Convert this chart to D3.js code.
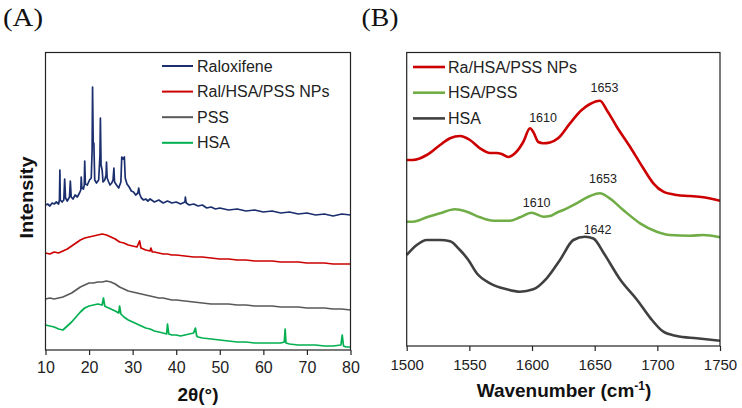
<!DOCTYPE html>
<html>
<head>
<meta charset="utf-8">
<script src="https://cdn.jsdelivr.net/npm/d3@7"></script>
<style>
  body { margin: 0; background: #fff; }
  svg { display: block; font-family: Arial, "Liberation Sans", sans-serif; }
</style>
</head>
<body>
<svg id="viz" width="742" height="408"></svg>
<script>
// ---- Panel A: XRD, [2θ, intensity] (arb. units) ----
const raloxifene = [
  [10,145],[10.5,146],[11,144],[11.5,147],[12,146],[12.5,148],[13,146],[13.2,150],[13.3,180],[13.4,150],
  [13.8,148],[14.2,150],[14.4,171],[14.6,152],[15,149],[15.5,153],[15.7,169],[15.9,153],[16.3,151],[16.8,155],
  [17.3,153],[17.8,157],[18.1,160],[18.2,173],[18.35,162],[18.7,161],[18.9,165],[19.0,189],[19.15,166],[19.6,165],
  [20.1,170],[20.5,172],[20.7,200],[20.8,263],[20.95,207],[21.1,207],[21.3,170],[21.7,167],[22.2,170],[22.5,195],
  [22.6,232],[22.75,185],[23,180],[23.2,168],[23.6,170],[23.9,175],[24.0,188],[24.15,172],[24.5,168],[24.8,165],
  [25.2,167],[25.5,170],[25.7,182],[25.85,168],[26.3,165],[26.8,162],[27.3,168],[27.5,193],[27.8,191],[28.1,193],
  [28.3,172],[28.7,166],[29.2,163],[29.7,159],[30.2,158],[30.7,155],[31.2,157],[31.4,162],[31.6,156],[32,152],
  [32.5,150],[33,151],[33.5,149],[34,151],[35,148],[36,150],[37,147],[38,149],[39,147],[40,148],
  [41,146],[42,148],[42.1,153],[42.3,147],[43,145],[44,146],[45,144],[46,145],[47,142],[48,143],
  [49,141],[50,142],[52,140],[54,141],[56,139],[58,140],[60,138],[62,139],[64,137],[66,138],
  [68,136],[70,137],[72,135],[74,136],[76,134],[78,136],[80,135]
];
const ralHsaPss = [
  [10,97],[11,96],[12,98],[13,97],[14,99],[15,101],[16,104],[17,107],[18,110],[19,112],
  [20,113],[21,114],[22,115],[23,116],[24,115],[25,113],[26,111],[27,108],[28,107],[29,105],
  [30,104],[31,103],[31.6,109],[31.9,102],[33,100],[34,99],[34.2,102],[34.5,98],[35,98],[36,97],
  [37,96],[38,96],[39,95],[40,95],[42,94],[44,93],[46,93],[48,92],[50,91],[52,91],
  [54,90],[56,90],[58,89],[60,89],[62,89],[64,88],[66,88],[68,88],[70,87],[72,87],
  [74,87],[76,86],[78,86],[80,86]
];
const pss = [
  [10,51],[11,52],[12,51],[13,52],[14,53],[15,55],[16,57],[17,60],[18,63],[19,65],
  [20,67],[21,67],[22,68],[23,68],[24,69],[25,68],[26,66],[27,63],[28,61],[29,59],
  [30,58],[31,57],[32,56],[33,55],[34,54],[35,53],[36,52],[37,52],[38,51],[39,50],
  [40,50],[42,49],[44,48],[46,47],[48,46],[50,46],[52,46],[54,45],[56,45],[58,44],
  [60,44],[62,44],[64,43],[66,43],[68,43],[70,42],[72,42],[74,42],[76,41],[78,41],[80,40]
];
const hsa = [
  [10,25],[11,24],[12,23],[13,21],[14,20],[15,24],[16,28],[17,33],[18,38],[19,42],
  [20,44],[21,45],[22,46],[23,45],[23.3,52],[23.6,44],[24,43],[25,41],[26,39],[26.8,37],
  [27,44],[27.3,36],[28,33],[29,30],[30,28],[31,26],[32,24],[33,22],[34,21],[35,19],
  [36,18],[37,17],[37.8,16],[38.0,26],[38.3,16],[39,15],[40,15],[41,14],[42,15],[43,16],
  [44,17],[44.4,22],[44.7,14],[45,13],[46,12],[48,11],[50,10],[52,9],[54,8],[56,8],
  [58,7],[60,7],[62,7],[64,7],[64.8,8],[65.0,21],[65.2,7],[66,6],[68,5],[70,5],
  [72,5],[74,4],[76,4],[77.8,5],[78.1,15],[78.4,4],[79,3],[80,3]
];
const xrdNames = ['Raloxifene', 'Ral/HSA/PSS NPs', 'PSS', 'HSA'];
const xrdTicks = [10, 20, 30, 40, 50, 60, 70, 80];

// ---- Panel B: FTIR, [wavenumber, intensity] ----
const ftirRa = [
  [1500,186],[1505,186],[1516,191],[1526.6,201],[1534.6,207.7],[1542.5,210],[1550.5,206],[1558.5,197.7],
  [1566.5,193],[1571.8,193],[1575.8,192],[1581,189],[1586.4,192.7],[1593,204],[1598.4,217.7],[1601,214],
  [1605,204],[1609,202.7],[1614.3,203.5],[1621,208],[1630.3,222.7],[1639.6,236],[1646.3,242],[1654.2,245.3],
  [1659.6,236],[1667.6,219.3],[1678.2,199.3],[1688.8,177.7],[1696.8,162.7],[1704.8,154.3],[1715.4,151],
  [1726,150],[1736.7,148.7],[1750,145.3]
];
const ftirHsaPss = [
  [1500,124.3],[1505,124.3],[1516,128.7],[1526.6,132.7],[1538.5,136.7],[1547.8,134.3],[1558.5,128.7],
  [1569.1,125.3],[1582.4,125.3],[1590.4,128.7],[1599.7,133.3],[1609,129.3],[1614.3,130],[1619.7,133.3],
  [1625,136],[1635.6,142.7],[1646.3,150],[1654.2,152.7],[1660.9,148.7],[1672.8,136],[1686.2,122.7],
  [1699.5,114.3],[1710.1,111],[1726,110.3],[1736.7,111],[1750,108.7]
];
const ftirHsa = [
  [1500,91],[1508,101],[1516,106],[1526.6,106],[1534.6,104.7],[1542.5,96],[1549.2,86],[1555.9,72.7],
  [1566.5,62.7],[1579.8,56.7],[1590.4,54.3],[1601,56.7],[1611.7,67.7],[1622.3,86],[1633,106],
  [1642.3,109.3],[1649,107.5],[1657.3,92.7],[1670.6,66],[1683.9,46],[1694.6,27.7],[1704.8,14.3],
  [1715.4,10],[1731.4,7.7],[1750,5.3]
];
const ftirNames = ['Ra/HSA/PSS NPs', 'HSA/PSS', 'HSA'];
const ftirTicks = [1500, 1550, 1600, 1650, 1700, 1750];
// peak labels: [text, wavenumber, intensity]
const ftirPeakLabels = [
  ['1653', 1657.8, 254], ['1610', 1608.8, 224],
  ['1653', 1656.6, 163], ['1610', 1603.7, 139],
  ['1642', 1652.3, 112]
];

(() => {
  const svg = d3.select('#viz');

  const xrdColors = ['#1b2f6e', '#cc0000', '#595959', '#00b050'];
  const ftirColors = ['#cc0000', '#70ad47', '#404040'];

  // ---------- Panel A ----------
  const A = { left: 45.5, right: 350.5, top: 52.5, bottom: 350 };
  const xA = d3.scaleLinear().domain([10, 80]).range([A.left, A.right]);
  const yA = d3.scaleLinear().domain([0, A.bottom - A.top]).range([A.bottom, A.top]);
  const lineA = d3.line().x((d) => xA(d[0])).y((d) => yA(d[1]));

  const gA = svg.append('g');
  [raloxifene, ralHsaPss, pss, hsa].forEach((s, i) => {
    gA.append('path')
      .attr('d', lineA(s))
      .attr('fill', 'none')
      .attr('stroke', xrdColors[i])
      .attr('stroke-width', 1.7)
      .attr('stroke-linejoin', 'round');
  });

  gA.append('rect')
    .attr('x', A.left).attr('y', A.top)
    .attr('width', A.right - A.left).attr('height', A.bottom - A.top)
    .attr('fill', 'none').attr('stroke', '#222').attr('stroke-width', 1.2);

  const axA = gA.append('g')
    .attr('transform', `translate(0,${A.bottom})`)
    .call(d3.axisBottom(xA).tickValues(xrdTicks).tickSize(5).tickSizeOuter(0).tickPadding(7));
  axA.select('.domain').remove();
  axA.selectAll('line').attr('stroke', '#222').attr('stroke-width', 1.2);
  axA.selectAll('text').attr('font-size', 16).attr('fill', '#222').attr('font-family', 'Arial, "Liberation Sans", sans-serif');

  // legend A
  xrdNames.forEach((name, i) => {
    const y = 66 + i * 25.6;
    gA.append('line').attr('x1', 162).attr('x2', 193).attr('y1', y).attr('y2', y)
      .attr('stroke', xrdColors[i]).attr('stroke-width', 2);
    gA.append('text').attr('x', 197).attr('y', y + 5.5)
      .attr('font-size', 16).attr('fill', '#222').text(name);
  });

  gA.append('text').attr('x', 198).attr('y', 401)
    .attr('text-anchor', 'middle').attr('font-size', 19).attr('font-weight', 'bold')
    .attr('fill', '#111').text('2θ(°)');

  gA.append('text')
    .attr('transform', 'translate(32.5,197.5) rotate(-90)')
    .attr('text-anchor', 'middle').attr('font-size', 18).attr('font-weight', 'bold')
    .attr('textLength', 82).attr('lengthAdjust', 'spacingAndGlyphs')
    .attr('fill', '#111').text('Intensity');

  gA.append('text').attr('x', 3).attr('y', 26)
    .attr('font-family', '"Liberation Serif", "Times New Roman", serif')
    .attr('font-size', 25).attr('textLength', 40).attr('lengthAdjust', 'spacingAndGlyphs')
    .attr('fill', '#111').text('(A)');

  // ---------- Panel B ----------
  const B = { left: 406.7, right: 720, top: 52.5, bottom: 346 };
  const xB = d3.scaleLinear().domain([1500, 1750]).range([B.left, B.right]);
  const yB = d3.scaleLinear().domain([0, B.bottom - B.top]).range([B.bottom, B.top]);
  const lineB = d3.line().curve(d3.curveMonotoneX).x((d) => xB(d[0])).y((d) => yB(d[1]));

  const gB = svg.append('g');
  [ftirRa, ftirHsaPss, ftirHsa].forEach((s, i) => {
    gB.append('path')
      .attr('d', lineB(s))
      .attr('fill', 'none')
      .attr('stroke', ftirColors[i])
      .attr('stroke-width', 2.6)
      .attr('stroke-linejoin', 'round');
  });

  gB.append('rect')
    .attr('x', B.left).attr('y', B.top)
    .attr('width', B.right - B.left).attr('height', B.bottom - B.top)
    .attr('fill', 'none').attr('stroke', '#222').attr('stroke-width', 1.2);

  const axB = gB.append('g')
    .attr('transform', `translate(0,${B.bottom})`)
    .call(d3.axisBottom(xB).tickValues(ftirTicks).tickFormat(d3.format('d'))
      .tickSize(5).tickSizeOuter(0).tickPadding(8));
  axB.select('.domain').remove();
  axB.selectAll('line').attr('stroke', '#222').attr('stroke-width', 1.2);
  axB.selectAll('text').attr('font-size', 15).attr('fill', '#222').attr('font-family', 'Arial, "Liberation Sans", sans-serif');

  ftirPeakLabels.forEach(([t, wn, v]) => {
    gB.append('text').attr('x', xB(wn)).attr('y', yB(v))
      .attr('text-anchor', 'middle').attr('font-size', 12.5).attr('fill', '#222').text(t);
  });

  // legend B
  ftirNames.forEach((name, i) => {
    const y = 67 + i * 25.7;
    gB.append('line').attr('x1', 413).attr('x2', 445).attr('y1', y).attr('y2', y)
      .attr('stroke', ftirColors[i]).attr('stroke-width', 2.6);
    gB.append('text').attr('x', 448).attr('y', y + 5.5)
      .attr('font-size', 16).attr('fill', '#222').text(name);
  });

  const title = gB.append('text').attr('x', 564).attr('y', 396.5)
    .attr('text-anchor', 'middle').attr('font-size', 19).attr('font-weight', 'bold').attr('fill', '#111');
  title.append('tspan').text('Wavenumber (cm');
  title.append('tspan').attr('font-size', 12).attr('dy', -7).text('-1');
  title.append('tspan').attr('dy', 7).text(')');

  gB.append('text').attr('x', 361.5).attr('y', 26)
    .attr('font-family', '"Liberation Serif", "Times New Roman", serif')
    .attr('font-size', 25).attr('textLength', 37).attr('lengthAdjust', 'spacingAndGlyphs')
    .attr('fill', '#111').text('(B)');
})();
</script>
</body>
</html>
